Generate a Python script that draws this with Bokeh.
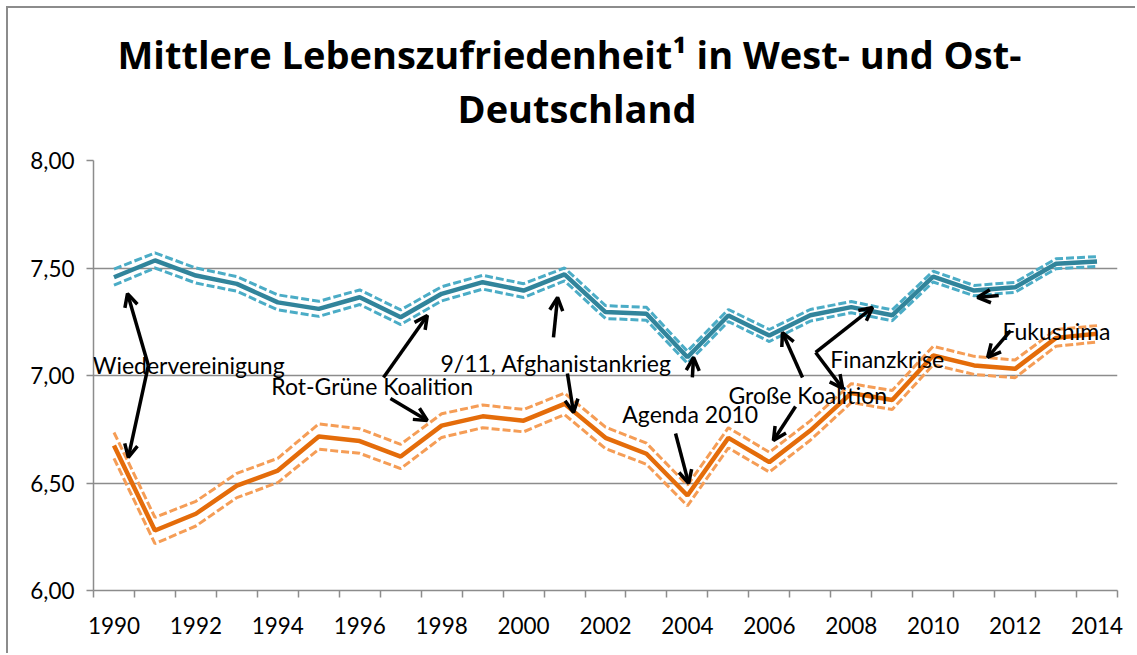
from bokeh.plotting import figure
from bokeh.models import Range1d, FixedTicker, Arrow, OpenHead, Label, Title
from bokeh.embed import file_html
from bokeh.resources import INLINE

# ---------------- data ----------------
years = list(range(1990, 2015))

west = [7.457, 7.535, 7.465, 7.426, 7.340, 7.310, 7.364, 7.271, 7.380, 7.434, 7.395, 7.470, 7.295,
        7.287, 7.085, 7.279, 7.186, 7.280, 7.318, 7.280, 7.460, 7.395, 7.410, 7.520, 7.530]
west_hi = [7.495, 7.570, 7.500, 7.460, 7.375, 7.345, 7.398, 7.305, 7.413, 7.466, 7.427, 7.500, 7.325,
           7.317, 7.113, 7.307, 7.214, 7.307, 7.344, 7.305, 7.485, 7.419, 7.433, 7.543, 7.553]
west_lo = [7.420, 7.500, 7.430, 7.392, 7.305, 7.275, 7.330, 7.237, 7.347, 7.402, 7.363, 7.440, 7.265,
           7.257, 7.057, 7.251, 7.158, 7.253, 7.292, 7.255, 7.435, 7.371, 7.387, 7.497, 7.507]

east = [6.674, 6.279, 6.357, 6.488, 6.558, 6.716, 6.695, 6.623, 6.767, 6.810, 6.790, 6.868, 6.710,
        6.636, 6.442, 6.710, 6.597, 6.744, 6.918, 6.886, 7.093, 7.047, 7.031, 7.175, 7.194]
east_hi = [6.735, 6.340, 6.415, 6.545, 6.615, 6.775, 6.752, 6.680, 6.822, 6.863, 6.842, 6.918, 6.760,
           6.685, 6.490, 6.757, 6.643, 6.789, 6.962, 6.930, 7.136, 7.089, 7.072, 7.214, 7.232]
east_lo = [6.615, 6.218, 6.300, 6.432, 6.502, 6.657, 6.638, 6.567, 6.712, 6.757, 6.738, 6.818, 6.660,
           6.587, 6.394, 6.663, 6.551, 6.699, 6.874, 6.842, 7.050, 7.005, 6.990, 7.136, 7.156]

x_tick_years = list(range(1990, 2015, 2))
y_ticks = [6.0, 6.5, 7.0, 7.5, 8.0]
y_tick_labels = ["6,00", "6,50", "7,00", "7,50", "8,00"]

title_lines = ["Mittlere Lebenszufriedenheit\u00b9 in West- und Ost-", "Deutschland"]

# annotation texts (label, x, y baseline)
notes = ["Wiedervereinigung", "Rot-Grüne Koalition", "9/11, Afghanistankrieg", "Agenda 2010",
         "Große Koalition", "Finanzkrise", "Fukushima"]
note_x = [1989.48, 1993.84, 1997.97, 2002.41, 2005.00, 2007.49, 2011.69]
note_y = [7.047, 6.953, 7.056, 6.823, 6.907, 7.079, 7.209]

# arrows (x_start, y_start, x_end, y_end)
arr_x0 = [1990.84, 1990.84, 1996.58, 1996.75, 2000.73, 2001.07, 2003.71, 2004.12, 2006.81, 2006.64, 2007.13, 2007.13, 2011.60, 2011.89]
arr_y0 = [7.047, 7.047, 6.991, 6.893, 7.177, 7.009, 6.730, 6.991, 6.991, 6.856, 7.107, 7.107, 7.372, 7.209]
arr_x1 = [1990.33, 1990.35, 1997.65, 1997.65, 2000.83, 2001.22, 2004.03, 2004.15, 2006.32, 2006.10, 2008.52, 2007.79, 2011.08, 2011.33]
arr_y1 = [7.381, 6.619, 7.279, 6.791, 7.363, 6.828, 6.498, 7.084, 7.200, 6.698, 7.316, 6.940, 7.363, 7.084]

FONT = "Lato"
TITLE_FONT = "Open Sans"
GRID = "#8c8c8c"
BLUE = "#31849b"
BLUE_L = "#4bacc6"
ORANGE = "#e46c0a"
ORANGE_L = "#f59d56"

p = figure(width=1129, height=647, output_backend="svg", toolbar_location=None, title=None,
           x_range=Range1d(1989.5, 2014.5), y_range=Range1d(6.0, 8.0),
           min_border_left=85, min_border_right=20, min_border_top=152, min_border_bottom=65)
p.outline_line_color = None
p.styles = {"margin-left": "8px", "margin-top": "8px", "box-shadow": "-2px -2px 0 0 #8c8c8c"}

# axes
xa = p.xaxis[0]
xa.ticker = FixedTicker(ticks=x_tick_years, minor_ticks=[y - 0.5 for y in years] + [2014.5])
xa.major_tick_line_color = None
xa.minor_tick_line_color = GRID
xa.minor_tick_line_width = 1.5
xa.minor_tick_out = 7
xa.minor_tick_in = 0
xa.axis_line_color = GRID
xa.axis_line_width = 1.5
xa.major_label_text_font = FONT
xa.major_label_text_font_size = "22.5px"
xa.major_label_text_color = "black"
xa.major_label_standoff = 19

ya = p.yaxis[0]
ya.ticker = FixedTicker(ticks=y_ticks)
ya.major_label_overrides = {t: s for t, s in zip(y_ticks, y_tick_labels)}
ya.minor_tick_line_color = None
ya.major_tick_line_color = GRID
ya.major_tick_line_width = 1.5
ya.major_tick_out = 7
ya.major_tick_in = 0
ya.axis_line_color = GRID
ya.axis_line_width = 1.5
ya.major_label_text_font = FONT
ya.major_label_text_font_size = "22.5px"
ya.major_label_text_color = "black"
ya.major_label_standoff = 12

p.xgrid.grid_line_color = None
p.ygrid.ticker = FixedTicker(ticks=y_ticks)
p.ygrid.grid_line_color = GRID
p.ygrid.grid_line_width = 1.5

# series
p.line(years, west_hi, line_color=BLUE_L, line_width=3, line_dash="8 3")
p.line(years, west_lo, line_color=BLUE_L, line_width=3, line_dash="8 3")
p.line(years, east_hi, line_color=ORANGE_L, line_width=3, line_dash="8 3")
p.line(years, east_lo, line_color=ORANGE_L, line_width=3, line_dash="8 3")
p.line(years, west, line_color=BLUE, line_width=4.5)
p.line(years, east, line_color=ORANGE, line_width=4.5)

# arrows
for x0, y0, x1, y1 in zip(arr_x0, arr_y0, arr_x1, arr_y1):
    p.add_layout(Arrow(x_start=x0, y_start=y0, x_end=x1, y_end=y1,
                       line_color="black", line_width=3.5,
                       end=OpenHead(size=13, line_width=3.5, line_color="black")))

# annotation texts
for t, x, y in zip(notes, note_x, note_y):
    p.add_layout(Label(x=x, y=y, text=t, text_font=FONT, text_font_size="23px",
                       text_color="black", text_baseline="alphabetic", text_align="left"))

# title (second line added first: it sits closest to the plot)
title_offsets = [24, 364]
title_standoffs = [-55, 54]
for t, off, so in zip(reversed(title_lines), reversed(title_offsets), reversed(title_standoffs)):
    p.add_layout(Title(text=t, align="left", offset=off, text_font=TITLE_FONT, text_font_size="38px",
                       text_font_style="bold", text_color="black", standoff=so), "above")

open("out.html", "w").write(file_html(p, INLINE))
